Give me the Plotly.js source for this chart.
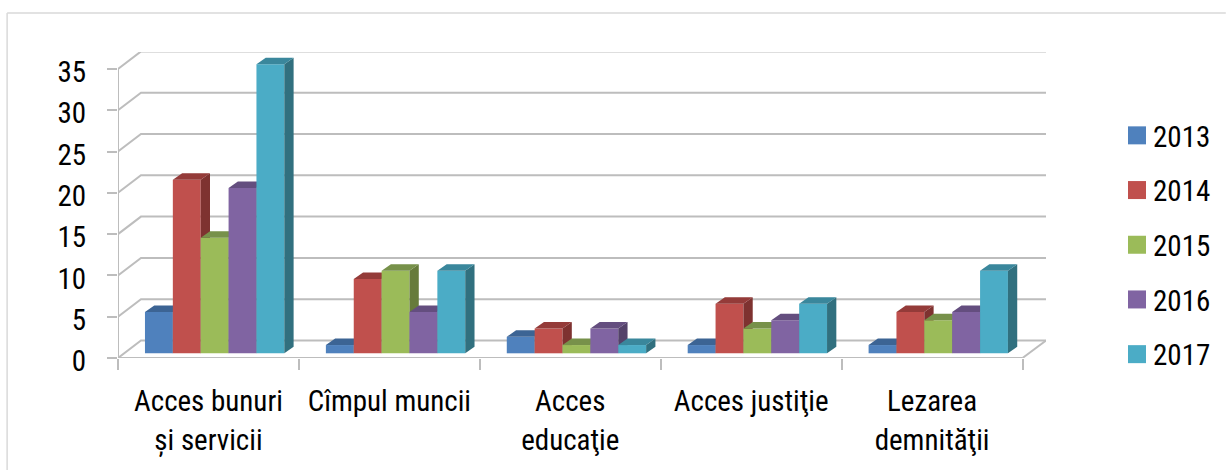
<!DOCTYPE html>
<html><head><meta charset="utf-8">
<script src="https://cdn.plot.ly/plotly-3.0.1.min.js"></script>
<style>html,body{margin:0;padding:0;background:#fff;overflow:hidden}</style>
</head><body><div id="chart" style="width:1227px;height:470px"></div>
<script>
const categories = ['Acces bunuri<br>și servicii','Cîmpul muncii','Acces<br>educaţie','Acces justiţie','Lezarea<br>demnităţii'];
const years = ['2013','2014','2015','2016','2017'];
const v2013 = [5,1,2,1,1];
const v2014 = [21,9,3,6,5];
const v2015 = [14,10,1,3,4];
const v2016 = [20,5,3,4,5];
const v2017 = [35,10,1,6,10];
const yTicks = [0,5,10,15,20,25,30,35];
const front = ['#4f81bd','#c0504d','#9bbb59','#8064a2','#4bacc6'];
const topFace = ['#3c6494','#943b39','#77914a','#644e7f','#3a879c'];
const sideFace = ['#345680','#7e3230','#677b3b','#54426a','#31707f'];
const series = [v2013,v2014,v2015,v2016,v2017];

const W=1227,H=470,L=118,R=1047,T=52,B=358;
const pxX=181.1, pxY=8.26;
const xMax=(R-L)/pxX, yMax=(B-T)/pxY;
const wallDx=23/pxX, wallDy=17.5/pxY;
const barW=27.9/pxX, shift=6.2/pxX, baseOff=4.7/pxY;
const depthX=9.3/pxX, depthY=6.5/pxY;
const lineCol='#bdbdbd';
const yAxisName=s=>'y'+(s+2);

const traces=[];
const gx=[],gy=[];
yTicks.forEach(v=>{ gx.push(0,wallDx,xMax,null); gy.push(v,v+wallDy,v+wallDy,null); });
gx.push(5,xMax); gy.push(0,wallDy);
traces.push({type:'scatter',mode:'lines',x:gx,y:gy,line:{color:lineCol,width:2},hoverinfo:'skip',showlegend:false,cliponaxis:false});

series.forEach((vals,s)=>{
  const xs=vals.map((_,i)=>i+0.5+shift+(s-2)*barW);
  traces.push({type:'bar',name:years[s],x:xs,y:vals,base:vals.map(()=>baseOff),width:barW,legendgroup:years[s],
    marker:{color:front[s],line:{width:0}},yaxis:yAxisName(s),hoverinfo:'name+y',cliponaxis:false});
  const sx=[],sy=[],tx=[],ty=[];
  vals.forEach((v,i)=>{
    const r=xs[i]+barW/2,l=xs[i]-barW/2,t=v+baseOff;
    sx.push(r,r+depthX,r+depthX,r,r,null); sy.push(baseOff,baseOff+depthY,t+depthY,t,baseOff,null);
    tx.push(l,l+depthX,r+depthX,r,l,null); ty.push(t,t+depthY,t+depthY,t,t,null);
  });
  traces.push({type:'scatter',mode:'lines',x:sx,y:sy,fill:'toself',fillcolor:sideFace[s],line:{width:0,color:sideFace[s]},yaxis:yAxisName(s),hoverinfo:'skip',showlegend:false,cliponaxis:false});
  traces.push({type:'scatter',mode:'lines',x:tx,y:ty,fill:'toself',fillcolor:topFace[s],line:{width:0,color:topFace[s]},yaxis:yAxisName(s),hoverinfo:'skip',showlegend:false,cliponaxis:false});
});

const font={family:'"Roboto Condensed","Roboto",sans-serif',size:29,color:'#000'};
const px=(p)=>(p-L)/(R-L), py=(p)=>1-(p-T)/(B-T);
const layout={
  width:W,height:H,margin:{l:L,r:W-R,t:T,b:H-B},autosize:false,
  paper_bgcolor:'#fff',plot_bgcolor:'rgba(0,0,0,0)',font,showlegend:true,barmode:'overlay',
  xaxis:{type:'linear',range:[0,xMax],fixedrange:true,showgrid:false,zeroline:false,
    showline:false,tickmode:'array',tickvals:categories.map((_,i)=>i+0.5),ticktext:categories,
    ticks:'',ticklabelstandoff:23,tickfont:font,tickangle:0,
    minor:{tickmode:'array',tickvals:[0,1,2,3,4,5],ticks:'outside',ticklen:11,tickwidth:2,tickcolor:lineCol,showgrid:false}},
  yaxis:{range:[0,yMax],fixedrange:true,showgrid:false,zeroline:false,showline:false,
    tickmode:'array',tickvals:yTicks,ticks:'outside',ticklen:10,tickwidth:2,tickcolor:lineCol,ticklabelstandoff:15,ticklabelshift:3,tickfont:font},
  legend:{x:px(1113),xanchor:'left',y:py(110),yanchor:'top',font,traceorder:'grouped',tracegroupgap:14,
    itemwidth:30,bgcolor:'rgba(0,0,0,0)',itemclick:false,itemdoubleclick:false},
  shapes:[
    {type:'line',xref:'paper',yref:'paper',x0:px(7),x1:px(7),y0:py(13),y1:py(470),line:{color:'#d9d9d9',width:1.5},layer:'below'},
    {type:'line',xref:'paper',yref:'paper',x0:px(7),x1:px(1227),y0:py(13),y1:py(13),line:{color:'#d9d9d9',width:1.5},layer:'below'},
    {type:'line',xref:'x',yref:'y',x0:0,x1:0,y0:0,y1:35,line:{color:lineCol,width:2},layer:'below'},
    {type:'line',xref:'x',yref:'y',x0:0,x1:5,y0:0,y1:0,line:{color:lineCol,width:2},layer:'below'}
  ]
};
series.forEach((_,s)=>{ layout['yaxis'+(s+2)]={overlaying:'y',range:[0,yMax],visible:false,fixedrange:true}; });

Plotly.newPlot('chart',traces,layout,{displayModeBar:false}).then(gd=>{
  gd.querySelectorAll('.legend g.legendpoints path').forEach(p=>p.setAttribute('d','M13,9H-5V-9H13Z'));
  gd.querySelectorAll('.xtick text tspan.line').forEach(t=>{
    if(t.previousElementSibling) t.setAttribute('y', parseFloat(t.getAttribute('y'))+1.5);
  });
});
</script></body></html>
